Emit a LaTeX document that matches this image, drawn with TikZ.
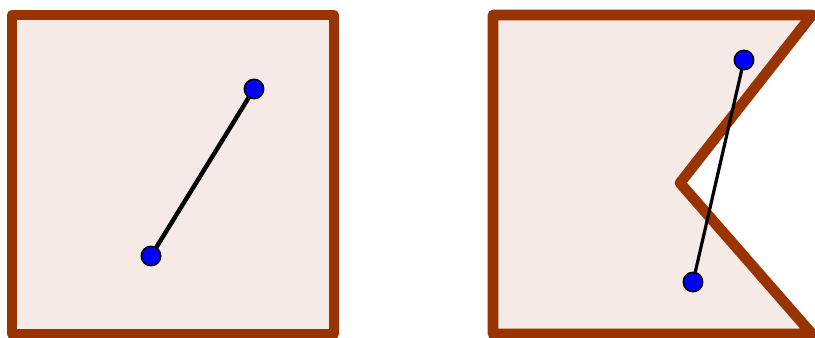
\documentclass[tikz,border=0pt]{standalone}
\definecolor{edge}{RGB}{153,51,0}
\definecolor{area}{RGB}{245,234,230}
\definecolor{pt}{RGB}{0,0,255}
\begin{document}
\begin{tikzpicture}[x=0.75pt,y=-0.75pt,
  region/.style={draw=edge,fill=area,line width=8pt,line join=round},
  dot/.style={circle,fill=pt,draw=black,line width=1.2pt,minimum size=14.5pt,inner sep=0pt},
  seg/.style={draw=black,line width=3.3pt}]
\useasboundingbox (0,0) rectangle (815,338);
\clip (0,0) rectangle (815,338);
\draw[region] (12,15) -- (334,15) -- (334,334) -- (12,334) -- cycle;
\draw[region] (493,15) -- (812,15) -- (680,183) -- (812,334) -- (493,334) -- cycle;
\coordinate (a) at (151,256);
\coordinate (b) at (254,89);
\coordinate (c) at (693,282);
\coordinate (d) at (744,60);
\draw[seg] (a) -- (b);
\draw[seg,line width=2.4pt] (c) -- (d);
\node[dot] (pa) at (a) {};
\node[dot] (pb) at (b) {};
\node[dot] (pc) at (c) {};
\node[dot] (pd) at (d) {};
\end{tikzpicture}
\end{document}
